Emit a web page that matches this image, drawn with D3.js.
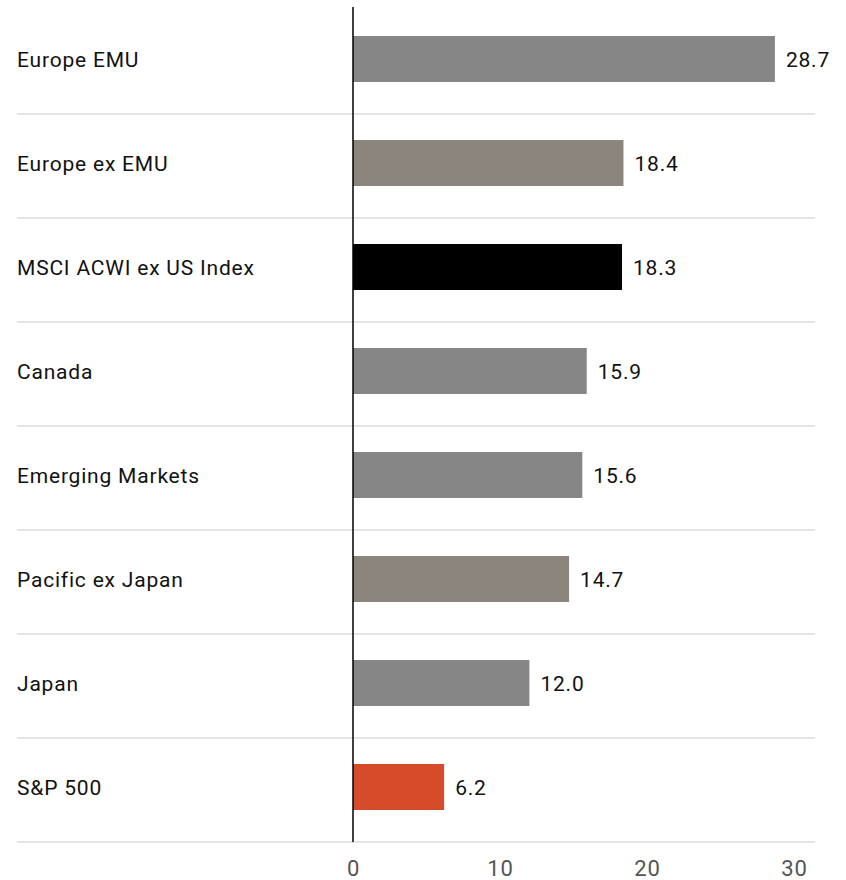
<!DOCTYPE html>
<html>
<head>
<meta charset="utf-8">
<script src="https://cdn.jsdelivr.net/npm/d3@7"></script>
<style>
  html, body { margin: 0; padding: 0; background: #fff; }
  svg text { font-family: Roboto, "DejaVu Sans", sans-serif; }
</style>
</head>
<body>
<svg id="chart" width="846" height="880"></svg>
<script>
// Regional values, top to bottom
const categories = [
  "Europe EMU",
  "Europe ex EMU",
  "MSCI ACWI ex US Index",
  "Canada",
  "Emerging Markets",
  "Pacific ex Japan",
  "Japan",
  "S&P 500"
];
const values = [28.7, 18.4, 18.3, 15.9, 15.6, 14.7, 12.0, 6.2];
const barColors = ["#868686", "#8b857e", "#000000", "#868686", "#868686", "#8b857e", "#868686", "#d64b2a"];
const tickValues = [0, 10, 20, 30];

const svg = d3.select("#chart");

const x = d3.scaleLinear().domain([0, 30]).range([353, 794]);
const y = d3.scaleBand().domain(categories).range([10, 842]).paddingInner(0).paddingOuter(0);
const bandH = y.bandwidth();
const barH = 46;
const rowMid = d => y(d) + bandH / 2 - 3;

// Row separators
svg.append("g")
  .selectAll("line")
  .data(categories)
  .join("line")
  .attr("x1", 17)
  .attr("x2", 815)
  .attr("y1", d => y(d) + bandH)
  .attr("y2", d => y(d) + bandH)
  .attr("stroke", "#dcdcdc")
  .attr("stroke-width", 1.5);

// Bars
svg.append("g")
  .selectAll("rect")
  .data(categories)
  .join("rect")
  .attr("x", x(0))
  .attr("y", d => rowMid(d) - barH / 2)
  .attr("width", (d, i) => x(values[i]) - x(0))
  .attr("height", barH)
  .attr("fill", (d, i) => barColors[i]);

// Value labels
svg.append("g")
  .selectAll("text")
  .data(categories)
  .join("text")
  .attr("x", (d, i) => x(values[i]) + 11)
  .attr("y", d => rowMid(d) + 1)
  .attr("dominant-baseline", "central")
  .attr("font-size", 21)
  .attr("letter-spacing", 0.8)
  .attr("fill", "#111")
  .text((d, i) => values[i].toFixed(1));

// Category labels
svg.append("g")
  .selectAll("text")
  .data(categories)
  .join("text")
  .attr("x", 17)
  .attr("y", d => rowMid(d) + 1)
  .attr("dominant-baseline", "central")
  .attr("font-size", 21)
  .attr("letter-spacing", 0.8)
  .attr("fill", "#111")
  .text(d => d);

// Zero axis line
svg.append("line")
  .attr("x1", x(0)).attr("x2", x(0))
  .attr("y1", 7).attr("y2", 842)
  .attr("stroke", "#000")
  .attr("stroke-width", 1.5);

// Bottom axis tick labels
const axis = d3.axisBottom(x).tickValues(tickValues).tickSize(0).tickPadding(0).tickFormat(d3.format("d"));
const gAxis = svg.append("g").attr("transform", "translate(0,860)").call(axis);
gAxis.select(".domain").remove();
gAxis.selectAll("text")
  .attr("font-size", 22)
  .attr("font-family", "Roboto, 'DejaVu Sans', sans-serif")
  .attr("letter-spacing", 0.8)
  .attr("fill", "#555")
  .attr("dy", "0.71em")
  .attr("y", 0);
</script>
</body>
</html>
